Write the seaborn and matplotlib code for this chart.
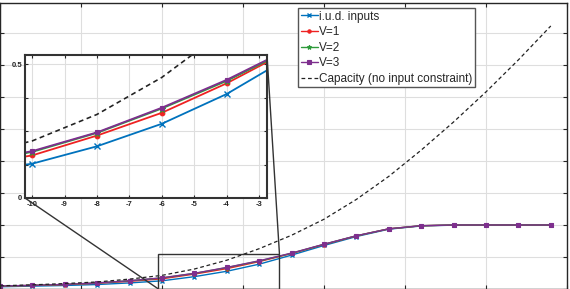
import matplotlib
matplotlib.use("Agg")
import matplotlib.pyplot as plt
import seaborn as sns
import numpy as np
from matplotlib.patches import Rectangle, ConnectionPatch

# ---- data ----
snr_db = [-20, -18, -16, -14, -12, -10, -8, -6, -4, -2, 0, 2, 4, 6, 8, 10, 12, 14]
iud_inputs = [0.035, 0.045, 0.055, 0.070, 0.095, 0.128, 0.193, 0.277, 0.388, 0.530,
              0.680, 0.820, 0.935, 0.985, 0.998, 1.000, 1.000, 1.000]
v1 = [0.045, 0.055, 0.068, 0.090, 0.120, 0.159, 0.233, 0.318, 0.428, 0.555,
      0.695, 0.830, 0.940, 0.988, 0.999, 1.000, 1.000, 1.000]
v2 = [0.046, 0.056, 0.071, 0.094, 0.128, 0.172, 0.243, 0.334, 0.437, 0.558,
      0.698, 0.831, 0.940, 0.989, 1.000, 1.000, 1.000, 1.000]
v3 = [0.047, 0.057, 0.072, 0.095, 0.130, 0.175, 0.245, 0.337, 0.441, 0.561,
      0.700, 0.832, 0.940, 0.990, 1.000, 1.000, 1.000, 1.000]
capacity = [0.050, 0.065, 0.085, 0.110, 0.155, 0.213, 0.312, 0.450, 0.630, 0.840,
            1.090, 1.400, 1.760, 2.170, 2.610, 3.080, 3.580, 4.110]

series_labels = ["i.u.d. inputs", "V=1", "V=2", "V=3", "Capacity (no input constraint)"]
inset_xticks = [-10, -9, -8, -7, -6, -5, -4, -3]
inset_yticks = [0, 0.125, 0.25, 0.375, 0.5]
inset_yticklabels = ["0", "", "", "", "0.5"]

# ---- style ----
sns.set_style("ticks")
plt.rcParams["font.family"] = ["Liberation Sans", "DejaVu Sans"]

C_BLUE = "#0072BD"
C_RED = "#ee2222"
C_GREEN = "#2e9b3b"
C_PURPLE = "#7E2F8E"
AX_COL = "#262626"
GRID_COL = "#dedede"

W, H = 570, 289
fig = plt.figure(figsize=(W / 100, H / 100), dpi=100)

# main axes
ax = fig.add_axes([0.0 / W, 0.0, 567 / W, 286 / H])
ax.set_xlim(-20, 15)
ax.set_ylim(0, 286 / 64)
ax.set_xticks(np.arange(-20, 16, 5))
ax.set_yticks(np.arange(0, 4.5, 0.5))
ax.set_xticklabels([])
ax.set_yticklabels([])
ax.grid(True, color=GRID_COL, linewidth=0.8)
ax.tick_params(direction="in", length=3, color=AX_COL, top=True, right=True,
               labelbottom=False, labelleft=False)
for s in ax.spines.values():
    s.set_color(AX_COL)
    s.set_linewidth(1.0)


def draw(a, lw, ms, legend):
    specs = [
        (iud_inputs, C_BLUE, "x", ms, 1.0),
        (v1, C_RED, "o", ms * 0.75, 0.8),
        (v2, C_GREEN, "*", ms, 0.8),
        (v3, C_PURPLE, "s", ms * 0.75, 0.8),
    ]
    for i, (vals, col, mk, msz, mew) in enumerate(specs):
        sns.lineplot(x=snr_db, y=vals, ax=a, color=col, marker=mk,
                     markersize=msz, markeredgewidth=mew,
                     markeredgecolor=col, markerfacecolor=col, linewidth=lw,
                     label=series_labels[i] if legend else None)
    sns.lineplot(x=snr_db, y=capacity, ax=a, color="#222222", linewidth=lw * 0.9,
                 linestyle=(0, (3, 2.2)),
                 label=series_labels[4] if legend else None)


draw(ax, 1.0, 3.2, True)
ax.set_xlim(-20, 15)
ax.set_ylim(0, 286 / 64)

leg = ax.legend(loc="upper left", bbox_to_anchor=(298 / W, 1 - 8 / H),
                bbox_transform=fig.transFigure, fontsize=8.5, frameon=True,
                fancybox=False, framealpha=1, edgecolor="#555555",
                handlelength=1.45, handletextpad=0.1, borderpad=0.22,
                labelspacing=0.3, borderaxespad=0)
leg.get_frame().set_linewidth(1.0)

# zoom rectangle in main axes
x0, x1 = -10.22, -2.75
y0, y1 = 0.0, 0.534
ax.add_patch(Rectangle((x0, y0), x1 - x0, 0.547, fill=False, edgecolor="#333333",
                       linewidth=1.0, zorder=5))

# inset axes
ins = fig.add_axes([25 / W, 1 - 198 / H, 242 / W, 143 / H])
draw(ins, 1.3, 4.5, False)
ins.set_xlim(x0, x1)
ins.set_ylim(y0, y1)
ins.set_xticks(inset_xticks)
ins.set_xticklabels([str(t) for t in inset_xticks])
ins.set_yticks(inset_yticks)
ins.set_yticklabels(inset_yticklabels)
ins.grid(True, color=GRID_COL, linewidth=0.8)
ins.tick_params(direction="in", length=2.5, color=AX_COL, top=True, right=True,
                labelsize=5.5, pad=2)
for lab in ins.get_xticklabels() + ins.get_yticklabels():
    lab.set_fontweight("bold")
    lab.set_color(AX_COL)
for s in ins.spines.values():
    s.set_color("#333333")
    s.set_linewidth(1.5)
ins.set_facecolor("white")

# connector lines
con1 = ConnectionPatch(xyA=(0, 0), coordsA=ins.transAxes,
                       xyB=(x0, y0), coordsB=ax.transData,
                       color="#333333", linewidth=1.0)
con2 = ConnectionPatch(xyA=(1, 1), coordsA=ins.transAxes,
                       xyB=(x1, 0.547), coordsB=ax.transData,
                       color="#333333", linewidth=1.0)
fig.add_artist(con1)
fig.add_artist(con2)

fig.savefig("out.png", dpi=100)
